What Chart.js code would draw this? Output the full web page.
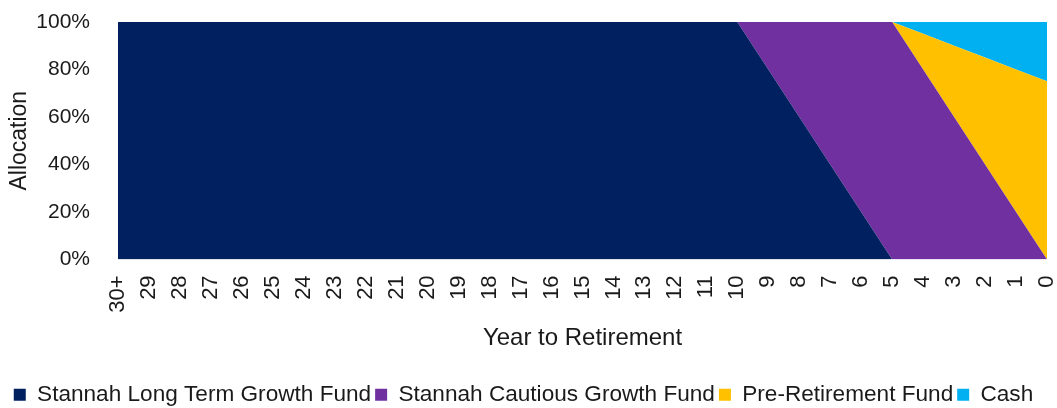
<!DOCTYPE html>
<html>
<head>
<meta charset="utf-8">
<script src="https://cdn.jsdelivr.net/npm/chart.js@4"></script>
<style>
  html, body { margin: 0; padding: 0; background: #fff; }
  #wrap { width: 1057px; height: 408px; }
</style>
</head>
<body>
<div id="wrap"><canvas id="glidepathChart"></canvas></div>
<script>
// Years to retirement (x axis)
const years = ['30+', '29', '28', '27', '26', '25', '24', '23', '22', '21', '20', '19', '18', '17', '16',
    '15', '14', '13', '12', '11', '10', '9', '8', '7', '6', '5', '4', '3', '2', '1', '0'];

// Allocation per fund, in %
const longTermGrowth = [100, 100, 100, 100, 100, 100, 100, 100, 100, 100, 100, 100, 100, 100, 100, 100,
    100, 100, 100, 100, 100, 80, 60, 40, 20, 0, 0, 0, 0, 0, 0];
const cautiousGrowth = [0, 0, 0, 0, 0, 0, 0, 0, 0, 0, 0, 0, 0, 0, 0, 0,
    0, 0, 0, 0, 0, 20, 40, 60, 80, 100, 80, 60, 40, 20, 0];
const preRetirement = [0, 0, 0, 0, 0, 0, 0, 0, 0, 0, 0, 0, 0, 0, 0, 0,
    0, 0, 0, 0, 0, 0, 0, 0, 0, 0, 15, 30, 45, 60, 75];
const cash = [0, 0, 0, 0, 0, 0, 0, 0, 0, 0, 0, 0, 0, 0, 0, 0,
    0, 0, 0, 0, 0, 0, 0, 0, 0, 0, 5, 10, 15, 20, 25];

const yTicks = [0, 20, 40, 60, 80, 100];

const textColor = '#1a1a1a';
const fontFamily = '"Liberation Sans", Arial, sans-serif';

function areaSet(label, data, color, fill) {
    return {
        label: label,
        data: data,
        backgroundColor: color,
        borderColor: color,
        borderWidth: 0,
        pointRadius: 0,
        tension: 0,
        fill: fill
    };
}

const ctx = document.getElementById('glidepathChart').getContext('2d');

new Chart(ctx, {
    type: 'line',
    data: {
        labels: years,
        datasets: [
            areaSet('Stannah Long Term Growth Fund', longTermGrowth, '#002060', 'origin'),
            areaSet('Stannah Cautious Growth Fund', cautiousGrowth, '#7030A0', '-1'),
            areaSet('Pre-Retirement Fund', preRetirement, '#FFC000', '-1'),
            areaSet('Cash', cash, '#00B0F0', '-1')
        ]
    },
    options: {
        responsive: true,
        maintainAspectRatio: false,
        animation: false,
        layout: { padding: { left: 0, right: 10, top: 22, bottom: -8 } },
        plugins: {
            legend: {
                position: 'bottom',
                labels: {
                    boxWidth: 12,
                    boxHeight: 12,
                    padding: 4,
                    color: textColor,
                    font: { family: fontFamily, size: 22.6 }
                }
            },
            tooltip: { enabled: false }
        },
        scales: {
            x: {
                stacked: true,
                offset: false,
                grid: { display: false },
                border: { display: false },
                ticks: {
                    autoSkip: false,
                    minRotation: 90,
                    maxRotation: 90,
                    padding: 8,
                    color: textColor,
                    font: { family: fontFamily, size: 22 }
                },
                title: {
                    display: true,
                    text: 'Year to Retirement',
                    color: textColor,
                    font: { family: fontFamily, size: 24 },
                    padding: { top: 0, bottom: 27 }
                },
                afterFit: scale => {
                    scale.height = 120;
                    scale.paddingLeft = 0;
                    scale.paddingRight = 0;
                }
            },
            y: {
                stacked: true,
                min: 0,
                max: 100,
                grid: { display: false },
                border: { display: false },
                afterBuildTicks: scale => {
                    scale.ticks = yTicks.map(v => ({ value: v }));
                },
                ticks: {
                    padding: 20,
                    color: textColor,
                    font: { family: fontFamily, size: 21 },
                    callback: value => value + '%'
                },
                title: {
                    display: true,
                    text: 'Allocation',
                    color: textColor,
                    font: { family: fontFamily, size: 23 },
                    padding: { top: 6, bottom: 0 }
                },
                afterFit: scale => {
                    scale.width = 118;
                    scale.paddingTop = 0;
                    scale.paddingBottom = 0;
                }
            }
        }
    }
});
</script>
</body>
</html>
